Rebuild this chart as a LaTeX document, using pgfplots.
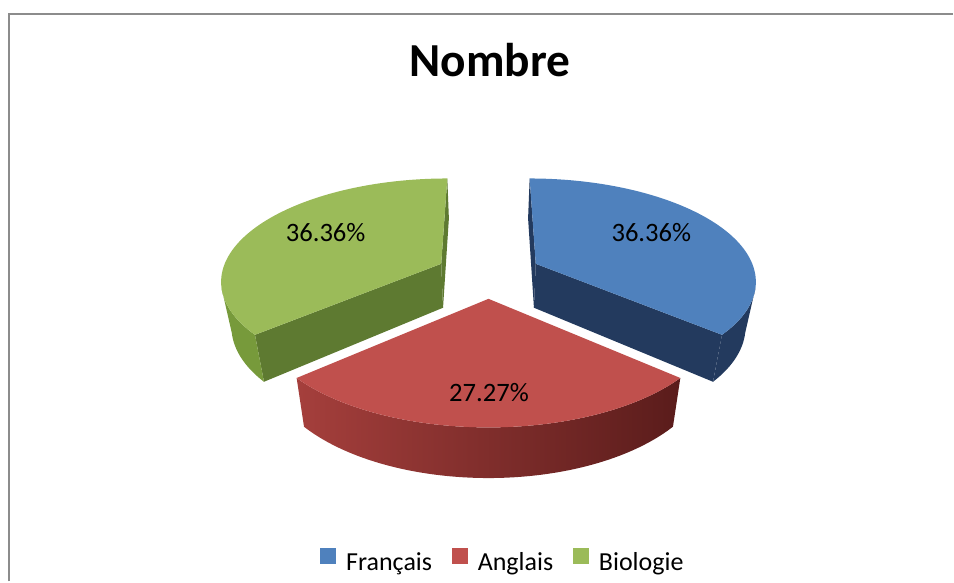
\documentclass[border=0pt]{standalone}
\usepackage{pgfplots}
\pgfplotsset{compat=1.18}
\usepackage{pgfplotstable}
\usepackage{fontspec}
\setmainfont{Carlito}

\definecolor{bTop}{HTML}{4F81BD}
\definecolor{bSide}{HTML}{233A5E}
\definecolor{rTop}{HTML}{C0504D}
\definecolor{rSideL}{HTML}{A53F3C}
\definecolor{rSideR}{HTML}{5A1C1B}
\definecolor{gTop}{HTML}{9BBB59}
\definecolor{gSide}{HTML}{5E7A31}
\definecolor{gSideO}{HTML}{779A3B}
\definecolor{frameGray}{HTML}{8C8C8C}

% data: share of each subject (percent)
\pgfplotstableread{
label val
Français 36.36
Anglais 27.27
Biologie 36.36
}\pietable

% projection parameters (pixels of the 954x582 canvas)
\def\cx{489}\def\cy{274}\def\gx{220}\def\gy{101}\def\pp{0.15}
\def\Ex{0.24}\def\Th{44.4}\def\kb{1.04}\def\pq{0.1}\def\Dc{5.0}

\pgfmathdeclarefunction{pjtx}{2}{\pgfmathparse{\cx+\gx*(#1)/(1+\pp*(#2))}}
\pgfmathdeclarefunction{pjty}{2}{\pgfmathparse{\cy-\gy*(#2)/(1+\pp*(#2))}}
\pgfmathdeclarefunction{pjbx}{2}{\pgfmathparse{\cx+\gx*(#1)/((1+\pp*(#2))*\kb)}}
\pgfmathdeclarefunction{pjby}{2}{\pgfmathparse{\cy-\gy*(#2)/(1+\pp*(#2))+\Th/(1+\pq*(#2))}}
% top face: t=0..100 arc from #4 to #5, t=101 vertex
\pgfmathdeclarefunction{topx}{5}{\pgfmathparse{ifthenelse(#1<100.5,pjtx(#2+cos(#4+#1*(#5-#4)/100),#3+sin(#4+#1*(#5-#4)/100)),pjtx(#2,#3))}}
\pgfmathdeclarefunction{topy}{5}{\pgfmathparse{ifthenelse(#1<100.5,pjty(#2+cos(#4+#1*(#5-#4)/100),#3+sin(#4+#1*(#5-#4)/100)),pjty(#2,#3))}}
% outer side: t=0..100 top arc #4->#5, t=101..201 bottom arc #5->#4
\pgfmathdeclarefunction{sidex}{5}{\pgfmathparse{ifthenelse(#1<100.5,pjtx(#2+cos(#4+#1*(#5-#4)/100),#3+sin(#4+#1*(#5-#4)/100)),pjbx(#2+cos(#5-(#1-101)*(#5-#4)/100),#3+sin(#5-(#1-101)*(#5-#4)/100)))}}
\pgfmathdeclarefunction{sidey}{5}{\pgfmathparse{ifthenelse(#1<100.5,pjty(#2+cos(#4+#1*(#5-#4)/100),#3+sin(#4+#1*(#5-#4)/100)),pjby(#2+cos(#5-(#1-101)*(#5-#4)/100),#3+sin(#5-(#1-101)*(#5-#4)/100)))}}

\newcommand\setupslice[3]{% #1 name, #2 start angle, #3 end angle (smaller)
  \pgfmathsetmacro\slM{(#2+#3)/2}%
  \pgfmathsetmacro\slOx{\Ex*cos(\slM)}%
  \pgfmathsetmacro\slOy{\Ex*sin(\slM)}%
  \pgfmathsetmacro\slPsi{atan2(\slOy+\Dc,\slOx)}%
  \pgfmathsetmacro\slDel{acos(1/sqrt((\slOx)^2+(\slOy+\Dc)^2))}%
  \pgfmathsetmacro\slLo{max(#3,\slPsi-180-\slDel)}%
  \pgfmathsetmacro\slHi{min(#2,\slPsi-180+\slDel)}%
  \expandafter\let\csname ox#1\endcsname\slOx
  \expandafter\let\csname oy#1\endcsname\slOy
  \expandafter\let\csname lo#1\endcsname\slLo
  \expandafter\let\csname hi#1\endcsname\slHi
  \pgfmathsetmacro\slA{pjtx(\slOx,\slOy)}\expandafter\let\csname vx#1\endcsname\slA
  \pgfmathsetmacro\slA{pjty(\slOx,\slOy)}\expandafter\let\csname vy#1\endcsname\slA
  \pgfmathsetmacro\slA{pjbx(\slOx,\slOy)}\expandafter\let\csname wx#1\endcsname\slA
  \pgfmathsetmacro\slA{pjby(\slOx,\slOy)}\expandafter\let\csname wy#1\endcsname\slA
  \pgfmathsetmacro\slA{pjtx(\slOx+cos(#2),\slOy+sin(#2))}\expandafter\let\csname sx#1\endcsname\slA
  \pgfmathsetmacro\slA{pjty(\slOx+cos(#2),\slOy+sin(#2))}\expandafter\let\csname sy#1\endcsname\slA
  \pgfmathsetmacro\slA{pjbx(\slOx+cos(#2),\slOy+sin(#2))}\expandafter\let\csname sbx#1\endcsname\slA
  \pgfmathsetmacro\slA{pjby(\slOx+cos(#2),\slOy+sin(#2))}\expandafter\let\csname sby#1\endcsname\slA
  \pgfmathsetmacro\slA{pjtx(\slOx+cos(#3),\slOy+sin(#3))}\expandafter\let\csname ex#1\endcsname\slA
  \pgfmathsetmacro\slA{pjty(\slOx+cos(#3),\slOy+sin(#3))}\expandafter\let\csname ey#1\endcsname\slA
  \pgfmathsetmacro\slA{pjbx(\slOx+cos(#3),\slOy+sin(#3))}\expandafter\let\csname ebx#1\endcsname\slA
  \pgfmathsetmacro\slA{pjby(\slOx+cos(#3),\slOy+sin(#3))}\expandafter\let\csname eby#1\endcsname\slA
}

\begin{document}%
\begin{tikzpicture}
\pgfplotstablegetelem{0}{val}\of\pietable \let\vA\pgfplotsretval
\pgfplotstablegetelem{1}{val}\of\pietable \let\vB\pgfplotsretval
\pgfplotstablegetelem{2}{val}\of\pietable \let\vC\pgfplotsretval
\pgfmathsetmacro\tot{\vA+\vB+\vC}
\pgfmathsetmacro\fA{\vA/\tot}
\pgfmathsetmacro\fB{(\vA+\vB)/\tot}
\pgfmathsetmacro\angA{90}
\pgfmathsetmacro\angB{90-360*\fA}
\pgfmathsetmacro\angC{90-360*\fB}
\pgfmathsetmacro\angD{-270}
\setupslice{A}{\angA}{\angB}
\setupslice{B}{\angB}{\angC}
\setupslice{C}{\angC}{\angD}
\begin{axis}[
  scale only axis, width=477pt, height=291pt,
  xmin=0, xmax=954, ymin=0, ymax=582, y dir=reverse,
  hide axis, clip=false,
  legend columns=3,
  legend style={at={(axis cs:504.5,563.5)}, anchor=center, draw=none, fill=none,
    font=\fontsize{13}{15}\selectfont,
    /tikz/every even column/.append style={column sep=8pt}},
  legend cell align=left,
]
\addlegendimage{legend image code/.code={\fill[bTop] (0pt,-0.2pt) rectangle (7.5pt,7.3pt);\path (10.5pt,0pt);}}
\addlegendentry{Français}
\addlegendimage{legend image code/.code={\fill[rTop] (0pt,-0.2pt) rectangle (7.5pt,7.3pt);\path (10.5pt,0pt);}}
\addlegendentry{Anglais}
\addlegendimage{legend image code/.code={\fill[gTop] (0pt,-0.2pt) rectangle (7.5pt,7.3pt);\path (10.5pt,0pt);}}
\addlegendentry{Biologie}

\path (axis cs:0,0) rectangle (axis cs:954,582);
\draw[frameGray, line width=1pt] (axis cs:9,582) -- (axis cs:9,14) -- (axis cs:954,14);

% ---- Français (blue)
\addplot[forget plot, fill=bSide, draw=none] coordinates {(\vxA,\vyA) (\sxA,\syA) (\sbxA,\sbyA) (\wxA,\wyA)};
\addplot[forget plot, fill=bSide, draw=none] coordinates {(\vxA,\vyA) (\exA,\eyA) (\ebxA,\ebyA) (\wxA,\wyA)};
\addplot[forget plot, fill=bSide, draw=none, domain=0:201, samples=202, variable=\t]
  ({sidex(\t,\oxA,\oyA,\loA,\hiA)},{sidey(\t,\oxA,\oyA,\loA,\hiA)});
\addplot[forget plot, fill=bTop, draw=none, domain=0:101, samples=102, variable=\t]
  ({topx(\t,\oxA,\oyA,\angB,\angA)},{topy(\t,\oxA,\oyA,\angB,\angA)});

% ---- Biologie (green)
\addplot[forget plot, fill=gSide, draw=none] coordinates {(\vxC,\vyC) (\sxC,\syC) (\sbxC,\sbyC) (\wxC,\wyC)};
\addplot[forget plot, fill=gSide, draw=none] coordinates {(\vxC,\vyC) (\exC,\eyC) (\ebxC,\ebyC) (\wxC,\wyC)};
\addplot[forget plot, fill=gSideO, draw=none, domain=0:201, samples=202, variable=\t]
  ({sidex(\t,\oxC,\oyC,\loC,\hiC)},{sidey(\t,\oxC,\oyC,\loC,\hiC)});
\addplot[forget plot, fill=gTop, draw=none, domain=0:101, samples=102, variable=\t]
  ({topx(\t,\oxC,\oyC,\angD,\angC)},{topy(\t,\oxC,\oyC,\angD,\angC)});

% ---- Anglais (red)
\addplot[forget plot, draw=none, left color=rSideL, right color=rSideR, domain=0:201, samples=202, variable=\t]
  ({sidex(\t,\oxB,\oyB,\loB,\hiB)},{sidey(\t,\oxB,\oyB,\loB,\hiB)});
\addplot[forget plot, fill=rTop, draw=none, domain=0:101, samples=102, variable=\t]
  ({topx(\t,\oxB,\oyB,\angC,\angB)},{topy(\t,\oxB,\oyB,\angC,\angB)});

% labels
\node[anchor=base, font=\bfseries\fontsize{23.7}{28}\selectfont] at (axis cs:490.5,77) {Nombre};
\node[anchor=base, font=\fontsize{13.3}{16}\selectfont] at (axis cs:652,242) {36.36\%};
\node[anchor=base, font=\fontsize{13.3}{16}\selectfont] at (axis cs:489.5,402) {27.27\%};
\node[anchor=base, font=\fontsize{13.3}{16}\selectfont] at (axis cs:326,242) {36.36\%};
\end{axis}
\end{tikzpicture}%
\end{document}
